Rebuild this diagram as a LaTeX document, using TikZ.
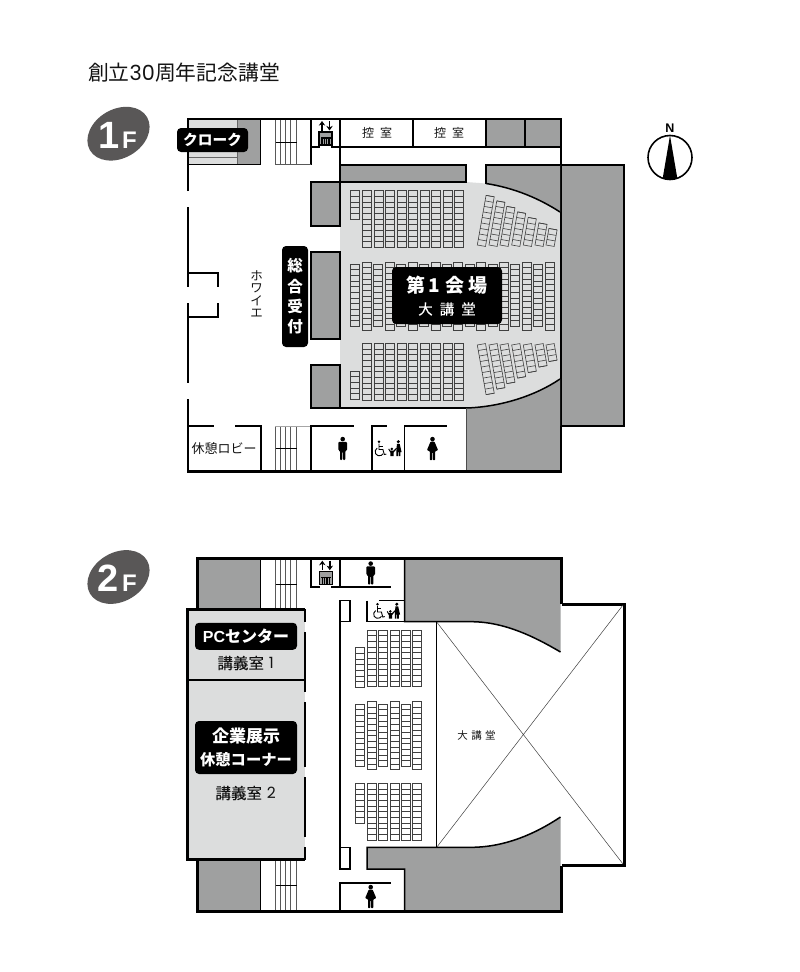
\documentclass[tikz,border=0pt]{standalone}
\usepackage{fontspec}
\setmainfont{Noto Sans CJK JP}
\newfontfamily\latinb{Liberation Sans}[BoldFont={Liberation Sans Bold}]
\newfontfamily\digitf{Poppins}
\newfontfamily\cjkm[FakeBold=.25]{Noto Sans CJK JP}
\usetikzlibrary{shapes.geometric,arrows.meta}
\definecolor{wallgray}{HTML}{9FA0A0}
\definecolor{hallgray}{HTML}{DCDDDD}
\definecolor{badge}{HTML}{595757}
\newcommand{\fs}[1]{\fontsize{#1}{#1}\selectfont}
\tikzset{
  x=1pt,y=-1pt,
  wall/.style={line width=1.5pt,black},
  thick wall/.style={line width=2.8pt,black},
  blk/.style={fill=wallgray,draw=black,line width=1.5pt},
  lab/.style={fill=black,rounded corners=4pt,draw=none},
  txt/.style={inner sep=0pt,outer sep=0pt,text=black!92},
  wtxt/.style={inner sep=0pt,outer sep=0pt,text=white,font=\bfseries},
  seat/.style={draw=black!75,line width=.6pt},
  stairline/.style={draw=black!65,line width=.6pt},
}
% seat column: x, top, rows
\newcommand{\seatcol}[3]{%
  \pgfmathsetmacro{\ybot}{#2+#3*5.65}%
  \draw[seat] (#1,#2) rectangle (#1+9,\ybot);
  \foreach \r in {1,...,#3}{\pgfmathsetmacro{\yy}{#2+\r*5.65}\draw[seat] (#1,\yy) -- (#1+9,\yy);}%
}
% fan column: x, y, rows, mirror sign
\newcommand{\fancol}[4]{%
  \begin{scope}[shift={(#1,#2)},yscale=#4,rotate=-10]
    \draw[seat] (0,0) rectangle (8.3,-#3*5.6);
    \foreach \r in {1,...,#3}{\draw[seat] (0,-\r*5.6) -- (8.3,-\r*5.6);}
  \end{scope}%
}
\newcommand{\stairs}[3]{%
  \foreach \sx in {275.5,280.5,285.5,290.5,296.5}{\draw[stairline] (\sx,#1) -- (\sx,#2);}
  \draw[line width=1pt,black] (275.5,#3) -- (296.5,#3);
}
\newcommand{\lift}[2]{%
  \begin{scope}[shift={(#1,#2)}]
    \draw[line width=1.2pt,fill=wallgray] (0,0) rectangle (13,13);
    \fill[black] (1.5,5) rectangle (11.5,6.5);
    \foreach \lx in {2.2,4.6,7,9.4}{\fill[black] (\lx,6) rectangle (\lx+1.4,12);}
    \draw[line width=1.5pt,-{Stealth[length=4.6pt,width=6.4pt]}] (3,-1.5) -- (3,-11);
    \draw[line width=1.5pt,-{Stealth[length=4.6pt,width=6.4pt]}] (10.5,-11) -- (10.5,-1.5);
  \end{scope}%
}
\newcommand{\man}[2]{%
  \begin{scope}[shift={(#1,#2)}]
    \fill (0,-9.4) circle (2.3);
    \fill[rounded corners=1pt] (-4.3,-6.7) -- (4.3,-6.7) -- (4.3,2) -- (2.7,2) -- (2.7,11.5) -- (.3,11.5) -- (.3,3) -- (-.3,3) -- (-.3,11.5) -- (-2.7,11.5) -- (-2.7,2) -- (-4.3,2) -- cycle;
  \end{scope}%
}
\newcommand{\woman}[2]{%
  \begin{scope}[shift={(#1,#2)}]
    \fill (0,-9.4) circle (2.3);
    \fill[rounded corners=.6pt] (-2,-6.8) -- (2,-6.8) -- (5.5,1.5) -- (2.6,3) -- (2.6,11.5) -- (.4,11.5) -- (.4,4) -- (-.4,4) -- (-.4,11.5) -- (-2.6,11.5) -- (-2.6,3) -- (-5.5,1.5) -- cycle;
  \end{scope}%
}
% wheelchair group anchored at wheel centre
\newcommand{\access}[2]{%
  \begin{scope}[shift={(#1,#2)}]
    \fill (-.3,-10) circle (1.4);
    \draw[line width=.9pt] (-.3,-8) -- (-.3,-2.2) -- (3.6,-2.2) -- (5,2.8) -- (7,2.4);
    \draw[line width=.9pt] (-.3,-5.4) -- (3.2,-5.4);
    \draw[line width=.9pt] (-2.1,-3.64) arc[start angle=240,end angle=30,radius=4.2];
    \fill (19,-10) circle (1.7);
    \fill (17.6,-7.8) -- (20.4,-7.8) -- (22.3,.5) -- (21,.5) -- (21,4.3) -- (19.4,4.3) -- (19.4,.5) -- (18.6,.5) -- (18.6,4.3) -- (17,4.3) -- (17,.5) -- cycle;
    \fill (12.5,-2.8) circle (1.4);
    \fill (11,-1) -- (14,-1) -- (17,-4) -- (17.6,-3) -- (14.3,.8) -- (14.3,4.3) -- (11,4.3) -- (11,.8) -- (9,-2.5) -- (9.7,-3.2) -- cycle;
  \end{scope}%
}
\begin{document}
\begin{tikzpicture}
\useasboundingbox (0,0) rectangle (800,972);
\fill[white] (0,0) rectangle (800,972);

% ---------- title ----------
\node[txt,anchor=center,font=\fs{20.8}] (title) at (184,72.5) {創立{\digitf 30}周年記念講堂};

% ---------- badges ----------
\node[ellipse,fill=badge,minimum width=66pt,minimum height=49pt,inner sep=0pt,rotate=30] (b1) at (118.5,133.7) {};
\node[inner sep=0pt,text=white,font=\latinb\bfseries\fs{38}] (b1n) at (109,135.5) {1};
\node[inner sep=0pt,text=white,font=\latinb\bfseries\fs{24}] (b1f) at (129.5,140) {F};
\node[ellipse,fill=badge,minimum width=66pt,minimum height=49pt,inner sep=0pt,rotate=30] (b2) at (118.5,577) {};
\node[inner sep=0pt,text=white,font=\latinb\bfseries\fs{38}] (b2n) at (108.5,578.5) {2};
\node[inner sep=0pt,text=white,font=\latinb\bfseries\fs{24}] (b2f) at (129.5,583) {F};

% ---------- north ----------
\node[inner sep=0pt,font=\latinb\bfseries\fs{12.5}] (north) at (670,128) {N};
\begin{scope}
  \clip (670,157.5) circle (22);
  \fill (670,135.5) -- (677.6,180) -- (662.4,180) -- cycle;
\end{scope}
\draw[line width=1.6pt] (670,157.5) circle (22);

% ================= 1F =================
% hall
\fill[hallgray] (340,182) -- (466,182) -- (486,183.5) .. controls (515,188) and (540,199) .. (560,212) -- (560,379) .. controls (535,396) and (500,407) .. (466,408) -- (340,408) -- cycle;
% big stage block
\draw[fill=wallgray,draw=none] (561,165) rectangle (624,426);
\draw[thick wall] (561,165) -- (624,165) -- (624,426) -- (561,426);
\draw[wall] (561,165) -- (561,426);
% NE hall gray
\fill[wallgray] (486,165) -- (560,165) -- (560,212) .. controls (540,199) and (515,188) .. (486,183.5) -- cycle;
\draw[wall] (486,183.5) -- (486,165) -- (560,165);
\draw[wall] (486,183.5) .. controls (515,188) and (540,199) .. (560,212);
% SE gray
\fill[wallgray] (466,408) .. controls (500,407) and (535,396) .. (560,379) -- (560,471) -- (466,471) -- cycle;
\draw[wall] (466,408) .. controls (500,407) and (535,396) .. (560,379);
\draw[line width=.9pt,black!70] (466,408) -- (466,471);
\draw[wall] (311,408) -- (466,408);
% bar
\draw[blk] (340,165) rectangle (466,182);
% side blocks
\draw[blk] (311,182) rectangle (340,226);
\draw[blk] (311,252) rectangle (340,339);
\draw[blk] (311,365) rectangle (340,408);
% upper rooms
\fill[wallgray] (486,120) rectangle (561,147);
\draw[wall] (486,120) -- (486,147) (525,120) -- (525,147) (413,120) -- (413,147);
\draw[wall] (340,120) -- (340,182);
\draw[wall] (340,147) -- (561,147);
\draw[wall] (311,120) -- (311,164.5);
\draw[wall] (311,147) -- (320,147) (331,147) -- (340,147);
% cloakroom
\fill[hallgray] (188,120) rectangle (237,165);
\fill[wallgray] (237,120) rectangle (260.5,165);
\draw[line width=.6pt,black!60] (188,157) -- (237,157) (237,120) -- (237,165);
\draw[wall] (188,164.5) -- (261,164.5) (260.5,120) -- (260.5,164.5);
% stairs
\stairs{120}{164}{142}
\draw[stairline] (275,164.3) -- (311,164.3);
\stairs{426}{471}{448}
\draw[line width=1pt,black!35] (275,426) -- (311,426);
% outer walls
\draw[line width=2.2pt] (188,191) -- (188,119) -- (561,119) -- (561,165);
\draw[line width=2.2pt] (188,207) -- (188,287);
\draw[line width=2.2pt] (188,303) -- (188,383);
\draw[line width=2.2pt] (188,399) -- (188,471.5) -- (561,471.5) -- (561,426);
\draw[wall] (188,273) -- (218,273) -- (218,287);
\draw[wall] (188,317) -- (218,317) -- (218,303);
% lower rooms
\draw[wall] (188,426) -- (214,426) (235,426) -- (261,426) -- (261,471);
\draw[wall] (311,471) -- (311,426) -- (354,426);
\draw[wall] (372,471) -- (372,426) -- (387,426);
\draw[wall] (404.5,471) -- (404.5,426) -- (447,426);
% seats 1F
\seatcol{350.7}{190.7}{5}
\foreach \i in {0,...,8}{\pgfmathsetmacro{\cx}{362.3+11.5*\i}\seatcol{\cx}{190.7}{10}}
\seatcol{350.7}{371}{5}
\foreach \i in {0,...,8}{\pgfmathsetmacro{\cx}{362.3+11.5*\i}\seatcol{\cx}{343.3}{10}}
\seatcol{350.7}{264}{11}
\foreach \i in {0,2,...,16}{\pgfmathsetmacro{\cx}{362.3+11.42*\i}\seatcol{\cx}{262}{12}}
\foreach \i in {1,3,...,15}{\pgfmathsetmacro{\cx}{362.3+11.42*\i}\seatcol{\cx}{264}{11}}
\foreach \fx/\fr in {477.3/9,489/8,500/7,511.7/6,523.3/5,535/4,546/3}{
  \fancol{\fx}{245}{\fr}{1}
  \fancol{\fx}{345}{\fr}{-1}
}
% labels 1F
\node[lab,minimum width=71pt,minimum height=24pt,inner sep=0pt] (cloak) at (212.5,140) {};
\node[wtxt,font=\bfseries\fs{14.7}] (cloakt) at (212.5,140) {クローク};
\node[lab,minimum width=26pt,minimum height=101pt,inner sep=0pt] (recep) at (295,296.5) {};
\node[wtxt,align=center,font=\bfseries\fontsize{15.5}{20.3}\selectfont] (recept) at (295,296.5) {総\\合\\受\\付};
\node[lab,minimum width=110pt,minimum height=57pt,inner sep=0pt] (hall1) at (447,295.5) {};
\node[wtxt,font=\bfseries\fs{19}] (hall1a) at (447,285) {第\hspace{2.6pt}1\hspace{6pt}会\hspace{4pt}場};
\node[wtxt,font=\cjkm\fs{14.5}] (hall1b) at (447,309) {大\hspace{7pt}講\hspace{7pt}堂};
\node[txt,font=\fs{12}] (room1) at (377,133) {控\hspace{6pt}室};
\node[txt,font=\fs{12}] (room2) at (449,133) {控\hspace{6pt}室};
\node[txt,align=center,font=\fontsize{12.5}{12.4}\selectfont] (foyer) at (256.7,294) {ホ\\ワ\\イ\\エ};
\node[txt,font=\fs{13}] (lobby) at (224.2,448) {休憩ロビー};
\lift{319}{132}
\man{342.7}{448.5}
\woman{432.5}{448.5}
\access{379.3}{451.7}

% ================= 2F =================
\fill[hallgray] (188,610) rectangle (304.5,859);
\fill[wallgray] (197,559) rectangle (261,609);
\fill[wallgray] (197,860) rectangle (261,910);
\draw[wall] (260.7,559) -- (260.7,609) (260.7,860) -- (260.7,910);
\stairs{559}{609}{584}
\stairs{860}{910}{885}
% NE gray
\fill[wallgray] (404.5,559) -- (560.5,559) -- (560.5,652) .. controls (535,637) and (505,622) .. (472,621.7) -- (404.5,621.7) -- cycle;
\draw[wall] (404.5,559) -- (404.5,621.7) -- (472,621.7) .. controls (505,622) and (535,637) .. (560.5,652);
% S gray
\fill[wallgray] (367,847.3) -- (472,847.3) .. controls (505,847) and (535,834) .. (560.5,817) -- (560.5,910) -- (404.5,910) -- (404.5,869) -- (367,869) -- cycle;
\draw[wall] (404.5,910) -- (404.5,869) -- (367,869) -- (367,847.3) -- (472,847.3) .. controls (505,847) and (535,834) .. (560.5,817);
% right room
\draw[line width=3pt] (561.5,604) -- (624,604) -- (624,865.5) -- (561.5,865.5);
\draw[line width=.5pt,black!75] (436.7,622) -- (623,864) (436.7,847.3) -- (623,605);
\draw[wall] (436.5,621.7) -- (436.5,847.3);
% centre walls
\draw[wall] (340,559) -- (340,587);
\draw[wall] (311,559) -- (311,587) -- (320,587) (331,587) -- (391,587);
\draw[wall] (340,600.7) -- (340,869);
\draw[wall,fill=white] (340,600.7) rectangle (350,621.7);
\draw[wall,fill=white] (340,847.3) rectangle (350,869);
\draw[wall] (367,600.7) -- (367,621.7) -- (404.5,621.7);
\draw[wall] (379,600.7) -- (404.5,600.7);
\draw[wall] (340,910) -- (340,883) -- (391,883);
% outer
\draw[line width=3pt] (197,609) -- (197,558) -- (561.5,558) -- (561.5,604);
\draw[line width=3pt] (197,859.5) -- (197,911) -- (561.5,911) -- (561.5,865.5);
% lecture rooms
\draw[line width=2.5pt] (304.7,609.5) -- (187.5,609.5) -- (187.5,859.5) -- (304.7,859.5);
\draw[wall] (188,680) -- (304.5,680);
\draw[line width=1.8pt] (304.7,609) -- (304.7,622) (304.7,632) -- (304.7,692) (304.7,702) -- (304.7,767) (304.7,777) -- (304.7,837) (304.7,847) -- (304.7,860);
% seats 2F
\seatcol{355.7}{647.7}{7}
\foreach \cx in {367,378.3,390,401.3,412.7}{\seatcol{\cx}{630}{10}}
\seatcol{355.7}{783.3}{7}
\foreach \cx in {367,378.3,390,401.3,412.7}{\seatcol{\cx}{783.3}{10}}
\foreach \cx in {355.7,378.3,401.3}{\seatcol{\cx}{704}{11}}
\foreach \cx in {367,390,412.7}{\seatcol{\cx}{701.7}{12}}
% labels 2F
\node[lab,minimum width=102pt,minimum height=27pt,inner sep=0pt] (pcbox) at (246,636.3) {};
\node[wtxt,font=\bfseries\fs{16}] (pct) at (246,636.5) {{\latinb\bfseries PC}センター};
\node[txt,font=\cjkm\fs{15.5}] (r1) at (245.7,663) {講義室\hspace{5pt}{\digitf 1}};
\node[lab,minimum width=102pt,minimum height=53pt,inner sep=0pt] (expo) at (246,747.5) {};
\node[wtxt,font=\bfseries\fs{17}] (expoa) at (246,736) {企業展示};
\node[wtxt,font=\bfseries\fs{15.3}] (expob) at (246,760) {休憩コーナー};
\node[txt,font=\cjkm\fs{15.5}] (r2) at (245.7,793) {講義室\hspace{5pt}{\digitf 2}};
\node[txt,font=\fs{10.5}] (h2) at (476.5,735.7) {大\hspace{3.5pt}講\hspace{3.5pt}堂};
\lift{319.3}{571.7}
\man{370.7}{573}
\woman{370.7}{896.5}
\access{377.8}{614.2}
\end{tikzpicture}
\end{document}
